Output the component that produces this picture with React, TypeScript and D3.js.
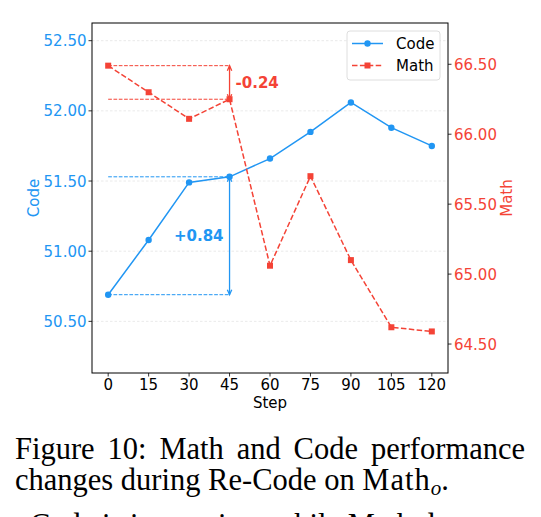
import { useLayoutEffect, useRef, useState } from 'react'
import * as d3 from 'd3'

const STEPS = [0, 15, 30, 45, 60, 75, 90, 105, 120]
const CODE = [50.69, 51.08, 51.49, 51.53, 51.66, 51.85, 52.06, 51.88, 51.75]
const MATH = [66.49, 66.30, 66.11, 66.25, 65.06, 65.70, 65.10, 64.62, 64.59]
const CODE_TICKS = [50.5, 51.0, 51.5, 52.0, 52.5]
const MATH_TICKS = [64.5, 65.0, 65.5, 66.0, 66.5]
const CODE_DELTA = { from: 0, to: 45, label: '+0.84' }
const MATH_DELTA = { from: 0, to: 45, label: '-0.24' }
const CAPTION = ['Figure 10: Math and Code performance', 'changes during Re-Code on ', 'Code is improving, while Math decreases and']

const BLUE = '#2196F3'
const RED = '#F44336'
const FONT = 'DejaVu Sans, sans-serif'
const SERIF = 'Liberation Serif, Times New Roman, serif'

const W = 541, H = 517
const m = { l: 92, r: 448, t: 23, b: 373 }

export default function App() {
  const x = d3.scaleLinear().domain([-6, 126]).range([m.l, m.r])
  const yL = d3.scaleLinear().domain([50.132, 52.626]).range([m.b, m.t])
  const yR = d3.scaleLinear().domain([64.293, 66.795]).range([m.b, m.t])
  const fmt = d3.format('.2f')

  // justify caption lines by measuring, then spreading the spaces
  const l1 = useRef<SVGTextElement>(null)
  const l3 = useRef<SVGTextElement>(null)
  const [ws, setWs] = useState<[number, number]>([0, 0])
  useLayoutEffect(() => {
    const fit = (el: SVGTextElement | null, x0: number, x1: number, s: string) => {
      if (!el) return 0
      const n = s.split(' ').length - 1
      return Math.max(0, (x1 - x0 - el.getComputedTextLength()) / n)
    }
    setWs([fit(l1.current, 15, 525, CAPTION[0]), fit(l3.current, 30, 525, CAPTION[2])])
  }, [])

  const codeLine = d3.line<number>().x((_, i) => x(STEPS[i])).y((d) => yL(d))(CODE) ?? ''
  const mathLine = d3.line<number>().x((_, i) => x(STEPS[i])).y((d) => yR(d))(MATH) ?? ''

  const ci0 = STEPS.indexOf(CODE_DELTA.from), ci1 = STEPS.indexOf(CODE_DELTA.to)
  const mi0 = STEPS.indexOf(MATH_DELTA.from), mi1 = STEPS.indexOf(MATH_DELTA.to)
  const xa = x(CODE_DELTA.to)

  // small double-headed arrow, matplotlib '<->' style
  const arrow = (ax: number, ya: number, yb: number, color: string) => {
    const dir = yb > ya ? 1 : -1
    const hw = 2.2, hl = 5
    return (
      <g stroke={color} fill="none" strokeWidth={1.3}>
        <line x1={ax} x2={ax} y1={ya} y2={yb} />
        <path d={`M${ax - hw},${ya + dir * hl} L${ax},${ya} L${ax + hw},${ya + dir * hl}`} />
        <path d={`M${ax - hw},${yb - dir * hl} L${ax},${yb} L${ax + hw},${yb - dir * hl}`} />
      </g>
    )
  }

  return (
    <svg width={W} height={H} style={{ position: 'absolute', left: 0, top: 0, background: '#fff' }} fontFamily={FONT}>
      <rect width={W} height={H} fill="#fff" />
      {/* grid */}
      {CODE_TICKS.map((t) => (
        <line key={t} x1={m.l} x2={m.r} y1={yL(t)} y2={yL(t)} stroke="#e4e4e4" strokeWidth={0.8} strokeDasharray="2.5,2" />
      ))}

      {/* delta guides */}
      <g strokeWidth={1} strokeDasharray="3.7,1.6" fill="none">
        <line x1={x(CODE_DELTA.from)} x2={xa} y1={yL(CODE[ci0])} y2={yL(CODE[ci0])} stroke={BLUE} />
        <line x1={x(CODE_DELTA.from)} x2={xa} y1={yL(CODE[ci1])} y2={yL(CODE[ci1])} stroke={BLUE} />
        <line x1={x(MATH_DELTA.from)} x2={xa} y1={yR(MATH[mi0])} y2={yR(MATH[mi0])} stroke={RED} />
        <line x1={x(MATH_DELTA.from)} x2={xa} y1={yR(MATH[mi1])} y2={yR(MATH[mi1])} stroke={RED} />
      </g>
      {arrow(xa, yL(CODE[ci0]), yL(CODE[ci1]), BLUE)}
      {arrow(xa, yR(MATH[mi0]), yR(MATH[mi1]), RED)}
      <text x={xa - 6} y={yL((CODE[ci0] + CODE[ci1]) / 2) + 5.5} textAnchor="end" fill={BLUE} fontSize={15} fontWeight="bold">{CODE_DELTA.label}</text>
      <text x={xa + 6} y={yR((MATH[mi0] + MATH[mi1]) / 2) + 5.5} fill={RED} fontSize={15} fontWeight="bold">{MATH_DELTA.label}</text>

      {/* series */}
      <path d={codeLine} fill="none" stroke={BLUE} strokeWidth={1.5} />
      {CODE.map((v, i) => <circle key={i} cx={x(STEPS[i])} cy={yL(v)} r={3.2} fill={BLUE} />)}
      <path d={mathLine} fill="none" stroke={RED} strokeWidth={1.5} strokeDasharray="5.5,2.4" />
      {MATH.map((v, i) => <rect key={i} x={x(STEPS[i]) - 3} y={yR(v) - 3} width={6} height={6} fill={RED} />)}

      {/* frame */}
      <rect x={m.l} y={m.t} width={m.r - m.l} height={m.b - m.t} fill="none" stroke="#000" strokeWidth={1} />

      {/* left axis */}
      {CODE_TICKS.map((t) => (
        <g key={t}>
          <line x1={m.l - 3.5} x2={m.l} y1={yL(t)} y2={yL(t)} stroke="#000" strokeWidth={0.8} />
          <text x={m.l - 5.5} y={yL(t) + 5.5} textAnchor="end" fill={BLUE} fontSize={15}>{fmt(t)}</text>
        </g>
      ))}
      <text transform={`translate(39,${(m.t + m.b) / 2}) rotate(-90)`} textAnchor="middle" fill={BLUE} fontSize={15}>Code</text>

      {/* right axis */}
      {MATH_TICKS.map((t) => (
        <g key={t}>
          <line x1={m.r} x2={m.r + 3.5} y1={yR(t)} y2={yR(t)} stroke="#000" strokeWidth={0.8} />
          <text x={m.r + 6} y={yR(t) + 5.5} fill={RED} fontSize={15}>{fmt(t)}</text>
        </g>
      ))}
      <text transform={`translate(512,${(m.t + m.b) / 2}) rotate(-90)`} textAnchor="middle" fill={RED} fontSize={15}>Math</text>

      {/* x axis */}
      {STEPS.map((s) => (
        <g key={s}>
          <line x1={x(s)} x2={x(s)} y1={m.b} y2={m.b + 3.5} stroke="#000" strokeWidth={0.8} />
          <text x={x(s)} y={m.b + 16.5} textAnchor="middle" fill="#000" fontSize={15}>{s}</text>
        </g>
      ))}
      <text x={(m.l + m.r) / 2} y={408} textAnchor="middle" fill="#000" fontSize={15}>Step</text>

      {/* legend */}
      <rect x={347} y={31} width={93} height={49} rx={3} fill="#fff" fillOpacity={0.8} stroke="#d6d6d6" strokeWidth={0.8} />
      <line x1={352} x2={383} y1={43.5} y2={43.5} stroke={BLUE} strokeWidth={1.5} />
      <circle cx={367.5} cy={43.5} r={3.2} fill={BLUE} />
      <text x={396} y={49} fontSize={15} fill="#000">Code</text>
      <line x1={352} x2={383} y1={65.5} y2={65.5} stroke={RED} strokeWidth={1.5} strokeDasharray="5.5,2.4" />
      <rect x={364.5} y={62.5} width={6} height={6} fill={RED} />
      <text x={396} y={71} fontSize={15} fill="#000">Math</text>

      {/* caption */}
      <g fontFamily={SERIF} fontSize={30.5} fill="#000">
        <text ref={l1} x={15} y={459} wordSpacing={ws[0]}>{CAPTION[0]}</text>
        <text x={15} y={490}>{CAPTION[1]}<tspan letterSpacing={1}>Math</tspan><tspan fontStyle="italic" fontSize={21} dy={5}>o</tspan><tspan dy={-5}>.</tspan></text>
        <text ref={l3} x={30} y={535} wordSpacing={ws[1]}>{CAPTION[2]}</text>
      </g>
    </svg>
  )
}
